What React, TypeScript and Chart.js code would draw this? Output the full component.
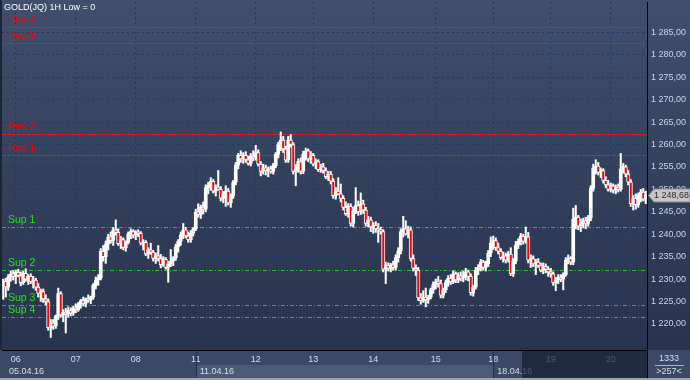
import React, { useEffect, useRef } from 'react';
import { Chart, registerables } from 'chart.js';

Chart.register(...registerables);

const FONT = "'Liberation Sans', Arial, sans-serif";

const opens = [
  1228.5,1229.5,1228.2,1230.5,1231.2,1230.6,1231.5,1230.8,1229.2,1231.3,
  1230.0,1230.6,1229.4,1229.8,1228.2,1226.8,1227.2,1225.6,1225.0,1219.2,
  1220.2,1219.5,1221.8,1226.8,1222.0,1222.6,1222.2,1223.0,1222.4,1223.6,
  1223.2,1224.4,1225.2,1224.6,1225.6,1225.3,1226.0,1228.6,1229.8,1230.2,
  1236.2,1235.0,1237.8,1239.4,1238.6,1241.0,1240.4,1237.9,1238.8,1237.0,
  1238.2,1240.1,1240.6,1239.8,1240.4,1240.2,1238.0,1238.2,1235.6,1236.5,
  1236.0,1234.6,1235.2,1234.6,1233.2,1234.4,1232.6,1233.4,1234.0,1234.8,
  1237.2,1238.4,1239.8,1241.0,1239.6,1238.8,1240.2,1241.2,1245.0,1244.4,
  1246.0,1245.6,1250.4,1251.0,1251.8,1249.6,1250.5,1250.0,1248.0,1249.0,
  1249.6,1247.0,1248.6,1251.6,1255.4,1257.6,1256.8,1257.6,1256.6,1255.8,
  1257.4,1257.0,1258.2,1255.6,1254.0,1254.8,1254.2,1254.6,1254.0,1255.2,
  1257.8,1260.0,1261.0,1259.0,1256.5,1261.0,1260.0,1254.0,1254.6,1256.2,
  1254.0,1257.8,1258.6,1256.8,1257.6,1255.6,1256.2,1254.4,1255.0,1254.2,
  1252.8,1253.4,1251.8,1248.6,1249.6,1249.0,1248.0,1246.0,1244.6,1246.2,
  1242.4,1245.2,1246.4,1245.0,1246.8,1245.4,1242.4,1243.2,1241.6,1242.0,
  1241.2,1241.0,1240.6,1232.2,1233.0,1232.4,1233.2,1232.6,1234.8,1236.2,
  1240.6,1241.2,1240.0,1241.0,1234.6,1232.4,1232.0,1225.8,1225.2,1226.0,
  1225.4,1226.0,1227.6,1228.8,1229.4,1229.0,1226.4,1227.6,1229.2,1230.2,
  1229.4,1231.2,1229.8,1230.8,1230.2,1230.6,1231.6,1230.6,1227.0,1228.2,
  1232.0,1232.6,1233.8,1232.6,1233.4,1235.8,1238.0,1238.6,1237.0,1236.2,
  1234.8,1235.2,1234.2,1235.6,1231.2,1234.0,1237.6,1238.4,1239.6,1238.4,
  1239.4,1234.2,1234.6,1233.4,1233.8,1233.0,1232.0,1232.8,1232.2,1231.6,
  1231.2,1229.2,1229.8,1230.4,1230.0,1231.0,1234.2,1234.6,1233.8,1243.4,
  1243.8,1241.8,1242.6,1243.0,1242.4,1243.6,1250.2,1254.8,1255.2,1253.8,
  1254.2,1252.0,1251.0,1250.0,1250.8,1249.8,1250.4,1250.0,1254.6,1255.0,
  1253.4,1251.6,1246.8,1248.0,1246.6,1248.6,1249.4,1247.8,
];

const highs = [
  1230.0,1230.2,1231.0,1231.8,1231.9,1232.0,1232.2,1231.6,1231.8,1232.3,
  1231.0,1231.2,1230.6,1230.2,1229.0,1227.8,1227.8,1226.5,1225.6,1221.0,
  1221.0,1222.0,1228.0,1227.2,1223.2,1223.5,1223.8,1223.6,1224.0,1224.5,
  1224.8,1225.5,1226.0,1225.8,1226.5,1226.2,1229.0,1230.5,1231.0,1236.8,
  1237.5,1238.5,1240.0,1240.5,1241.5,1243.2,1241.2,1239.5,1239.2,1238.5,
  1240.5,1241.2,1241.0,1240.8,1241.0,1240.6,1238.8,1238.6,1237.0,1238.0,
  1236.4,1235.8,1237.5,1235.5,1235.0,1234.8,1234.0,1236.6,1235.0,1237.8,
  1238.8,1240.5,1242.4,1241.5,1240.5,1240.8,1241.5,1245.6,1246.8,1246.5,
  1247.2,1251.0,1251.6,1252.6,1252.2,1251.0,1254.2,1250.6,1249.5,1250.8,
  1250.2,1249.0,1252.0,1256.0,1258.0,1258.6,1258.2,1258.4,1257.4,1258.0,
  1258.6,1259.8,1258.8,1256.2,1255.6,1255.4,1255.0,1255.2,1255.8,1258.2,
  1260.5,1262.8,1261.8,1259.6,1261.8,1262.2,1260.4,1255.5,1256.8,1257.0,
  1258.5,1259.2,1259.0,1258.4,1258.0,1256.8,1256.6,1255.6,1255.8,1254.8,
  1254.0,1254.0,1252.4,1250.4,1252.6,1251.2,1248.6,1247.2,1246.8,1246.8,
  1246.0,1250.4,1247.4,1249.2,1247.6,1246.0,1244.0,1243.8,1242.6,1242.8,
  1242.4,1241.6,1241.0,1233.8,1233.6,1233.5,1234.0,1235.4,1237.0,1241.2,
  1244.0,1243.0,1241.8,1241.6,1235.4,1233.2,1232.6,1226.8,1227.4,1228.0,
  1226.4,1228.0,1229.4,1230.0,1230.6,1229.8,1228.0,1229.8,1230.8,1231.0,
  1231.8,1231.6,1231.4,1231.6,1231.8,1232.4,1232.0,1231.2,1228.6,1232.6,
  1233.2,1234.4,1234.2,1234.0,1236.4,1239.4,1239.6,1239.2,1238.0,1236.8,
  1236.0,1235.8,1236.2,1237.0,1234.6,1238.4,1239.0,1240.2,1240.0,1241.6,
  1240.4,1235.4,1235.2,1234.4,1234.6,1233.6,1233.6,1233.4,1232.8,1232.4,
  1231.6,1230.4,1231.0,1231.0,1231.4,1234.8,1235.4,1235.0,1245.8,1246.4,
  1244.2,1243.4,1243.6,1243.8,1244.2,1250.8,1255.6,1256.6,1256.0,1254.8,
  1254.6,1252.8,1252.0,1251.4,1251.2,1251.0,1251.2,1258.0,1255.8,1255.4,
  1254.2,1252.2,1248.6,1249.0,1249.2,1250.0,1250.2,1249.6,
];

const lows = [
  1225.5,1226.0,1227.5,1229.5,1229.8,1229.0,1230.5,1228.5,1228.8,1229.5,
  1228.8,1229.0,1228.0,1227.5,1226.0,1225.0,1224.8,1224.2,1218.6,1217.0,
  1218.8,1219.0,1221.0,1221.5,1220.5,1218.0,1221.5,1221.8,1221.9,1222.5,
  1222.8,1223.5,1224.0,1223.8,1224.8,1224.5,1225.5,1227.8,1228.6,1229.8,
  1234.0,1233.5,1236.5,1238.0,1237.5,1239.8,1237.5,1236.8,1236.5,1236.2,
  1237.8,1239.0,1239.2,1238.8,1239.5,1237.6,1236.5,1235.2,1234.6,1235.5,
  1234.0,1233.5,1234.0,1232.5,1232.8,1232.2,1229.3,1232.8,1233.0,1234.2,
  1236.0,1237.5,1239.0,1239.2,1238.2,1238.2,1239.6,1240.8,1243.8,1243.5,
  1244.5,1245.0,1249.0,1249.8,1249.2,1248.5,1249.8,1247.4,1247.0,1246.2,
  1246.5,1246.0,1248.0,1251.0,1254.6,1256.0,1255.8,1256.0,1255.4,1255.2,
  1256.4,1256.5,1255.2,1253.0,1253.4,1253.2,1252.8,1253.6,1253.4,1254.8,
  1257.0,1258.6,1258.2,1256.0,1256.0,1259.4,1253.4,1250.8,1253.8,1253.4,
  1253.5,1256.5,1256.2,1255.8,1255.2,1254.6,1254.0,1253.8,1253.6,1252.4,
  1252.0,1251.2,1248.0,1247.8,1248.8,1247.2,1245.4,1244.2,1243.8,1241.8,
  1241.6,1244.6,1244.2,1244.4,1244.6,1241.8,1241.6,1240.6,1240.2,1240.4,
  1238.2,1240.0,1231.6,1229.0,1231.8,1231.6,1232.0,1232.0,1233.8,1235.6,
  1239.4,1239.8,1239.2,1234.0,1231.8,1230.8,1225.2,1224.4,1224.8,1223.8,
  1224.6,1225.6,1226.8,1227.8,1228.2,1225.8,1225.8,1227.0,1228.4,1228.8,
  1229.0,1229.2,1229.2,1229.6,1229.4,1229.8,1229.6,1226.4,1226.2,1227.8,
  1231.0,1231.8,1232.0,1231.8,1232.8,1235.0,1236.6,1236.4,1235.6,1234.4,
  1233.8,1233.6,1233.8,1230.8,1230.6,1233.4,1236.8,1237.6,1237.8,1238.0,
  1233.6,1232.6,1232.8,1231.0,1232.6,1231.6,1231.2,1231.4,1230.6,1230.4,
  1228.6,1227.4,1229.0,1229.4,1227.6,1230.6,1233.4,1233.2,1233.2,1241.2,
  1241.0,1240.6,1241.4,1241.2,1241.8,1243.0,1249.6,1253.4,1253.2,1252.6,
  1251.4,1250.4,1249.6,1249.4,1249.2,1249.0,1249.4,1249.6,1253.6,1252.8,
  1251.0,1246.2,1245.4,1245.6,1246.0,1247.2,1247.4,1246.8,
];

const closes = [
  1229.5,1228.2,1230.5,1231.2,1230.6,1231.5,1230.8,1229.2,1231.3,1230.0,
  1230.6,1229.4,1229.8,1228.2,1226.8,1227.2,1225.6,1225.0,1219.2,1220.2,
  1219.5,1221.8,1226.8,1222.0,1222.6,1222.2,1223.0,1222.4,1223.6,1223.2,
  1224.4,1225.2,1224.6,1225.6,1225.3,1226.0,1228.6,1229.8,1230.2,1236.2,
  1235.0,1237.8,1239.4,1238.6,1241.0,1240.4,1237.9,1238.8,1237.0,1238.2,
  1240.1,1240.6,1239.8,1240.4,1240.2,1238.0,1238.2,1235.6,1236.5,1236.0,
  1234.6,1235.2,1234.6,1233.2,1234.4,1232.6,1233.4,1234.0,1234.8,1237.2,
  1238.4,1239.8,1241.0,1239.6,1238.8,1240.2,1241.2,1245.0,1244.4,1246.0,
  1245.6,1250.4,1251.0,1251.8,1249.6,1250.5,1250.0,1248.0,1249.0,1249.6,
  1247.0,1248.6,1251.6,1255.4,1257.6,1256.8,1257.6,1256.6,1255.8,1257.4,
  1257.0,1258.2,1255.6,1254.0,1254.8,1254.2,1254.6,1254.0,1255.2,1257.8,
  1260.0,1261.0,1259.0,1256.5,1261.0,1260.0,1254.0,1254.6,1256.2,1254.0,
  1257.8,1258.6,1256.8,1257.6,1255.6,1256.2,1254.4,1255.0,1254.2,1252.8,
  1253.4,1251.8,1248.6,1249.6,1249.0,1248.0,1246.0,1244.6,1246.2,1242.4,
  1245.2,1246.4,1245.0,1246.8,1245.4,1242.4,1243.2,1241.6,1242.0,1241.2,
  1241.0,1240.6,1232.2,1233.0,1232.4,1233.2,1232.6,1234.8,1236.2,1240.6,
  1241.2,1240.0,1241.0,1234.6,1232.4,1232.0,1225.8,1225.2,1226.0,1225.4,
  1226.0,1227.6,1228.8,1229.4,1229.0,1226.4,1227.6,1229.2,1230.2,1229.4,
  1231.2,1229.8,1230.8,1230.2,1230.6,1231.6,1230.6,1227.0,1228.2,1232.0,
  1232.6,1233.8,1232.6,1233.4,1235.8,1238.0,1238.6,1237.0,1236.2,1234.8,
  1235.2,1234.2,1235.6,1231.2,1234.0,1237.6,1238.4,1239.6,1238.4,1239.4,
  1234.2,1234.6,1233.4,1233.8,1233.0,1232.0,1232.8,1232.2,1231.6,1231.2,
  1229.2,1229.8,1230.4,1230.0,1231.0,1234.2,1234.6,1233.8,1243.4,1243.8,
  1241.8,1242.6,1243.0,1242.4,1243.6,1250.2,1254.8,1255.2,1253.8,1254.2,
  1252.0,1251.0,1250.0,1250.8,1249.8,1250.4,1250.0,1254.6,1255.0,1253.4,
  1251.6,1246.8,1248.0,1246.6,1248.6,1249.4,1247.8,1248.68,
];

// x-axis: day ticks (bar index where each day starts) and their labels
const dayStartIdx = [5, 29, 53, 77, 101, 124, 148, 173, 196, 219, 243];
const dayLabels = ['06', '07', '08', '11', '12', '13', '14', '15', '18', '19', '20'];
const weekStartIdx = [0, 77, 196];
const weekLabels = ['05.04.16', '11.04.16', '18.04.16'];

// y-axis ticks
const yTicks = [1220, 1225, 1230, 1235, 1240, 1245, 1250, 1255, 1260, 1265, 1270, 1275, 1280, 1285];
const yMin = 1214.2;
const yMax = 1291.75;

// support / resistance levels
const levelNames = ['Res 4', 'Res 3', 'Res 2', 'Res 1', 'Sup 1', 'Sup 2', 'Sup 3', 'Sup 4'];
const levelValues = [1286.1, 1282.55, 1262.27, 1257.6, 1241.6, 1231.97, 1224.2, 1221.5];

const titleText = 'GOLD(JQ) 1H Low = 0';
const barCountText = '1333';
const visibleText = '>257<';

const fmt = (v: number) => {
  const s = v.toFixed(2).replace('.', ',');
  return s.slice(0, 1) + ' ' + s.slice(1);
};

const decor = {
  id: 'decor',
  beforeDraw(chart: any) {
    const { ctx, width, height, chartArea } = chart;
    const xs = chart.scales.x;
    ctx.save();
    const g = ctx.createLinearGradient(0, 0, 0, chartArea.bottom);
    g.addColorStop(0, '#404f6c');
    g.addColorStop(1, '#28334d');
    ctx.fillStyle = g;
    ctx.fillRect(0, 0, width, chartArea.bottom);
    ctx.fillStyle = '#3b4966';
    ctx.fillRect(0, chartArea.bottom, width, height - chartArea.bottom);
    const w1 = xs.getPixelForValue(weekStartIdx[1]);
    const w2 = xs.getPixelForValue(weekStartIdx[2]);
    ctx.fillStyle = '#4c5a78';
    ctx.fillRect(w1, 365, w2 - w1, 13);
    ctx.fillStyle = '#1e2535';
    ctx.fillRect(0, 0, 2, chartArea.bottom);
    ctx.restore();
  },
  beforeDatasetsDraw(chart: any) {
    const { ctx, chartArea } = chart;
    const ys = chart.scales.y;
    levelValues.forEach((v, k) => {
      const isRes = levelNames[k].startsWith('Res');
      const py = Math.round(ys.getPixelForValue(v)) + 0.5;
      ctx.save();
      ctx.lineWidth = 1;
      ctx.strokeStyle = isRes ? '#ff1010' : '#22c422';
      ctx.setLineDash(isRes ? [4, 1] : [4, 2, 1, 2]);
      ctx.beginPath();
      ctx.moveTo(chartArea.left, py);
      ctx.lineTo(chartArea.right, py);
      ctx.stroke();
      ctx.restore();
      ctx.save();
      ctx.font = `10.5px ${FONT}`;
      ctx.textBaseline = 'alphabetic';
      ctx.textAlign = 'left';
      ctx.fillStyle = isRes ? '#ff0000' : '#1ee61e';
      ctx.fillText(levelNames[k], 8, py - 4.5);
      ctx.restore();
    });
  },
  afterDraw(chart: any) {
    const { ctx, chartArea, width, height } = chart;
    const xs = chart.scales.x;
    const ys = chart.scales.y;
    ctx.save();
    // week labels
    ctx.font = `9px ${FONT}`;
    ctx.textBaseline = 'middle';
    ctx.textAlign = 'left';
    ctx.fillStyle = '#d4def0';
    weekStartIdx.forEach((idx, k) => {
      const x = k === 0 ? 9 : xs.getPixelForValue(idx) + 4;
      ctx.fillText(weekLabels[k], x, 371.5);
    });
    ctx.strokeStyle = '#1c2f58';
    ctx.lineWidth = 1;
    weekStartIdx.slice(1).forEach((idx) => {
      const x = Math.round(xs.getPixelForValue(idx)) + 0.5;
      ctx.beginPath();
      ctx.moveTo(x, chartArea.bottom);
      ctx.lineTo(x, height);
      ctx.stroke();
    });
    // scroll thumb overlay
    ctx.fillStyle = 'rgba(22,30,50,0.72)';
    ctx.fillRect(522, chartArea.bottom + 1, chartArea.right - 522, height - chartArea.bottom - 3);
    // right separator down through the strip
    ctx.strokeStyle = '#000000';
    ctx.beginPath();
    ctx.moveTo(chartArea.right + 0.5, chartArea.bottom);
    ctx.lineTo(chartArea.right + 0.5, height);
    ctx.stroke();
    // corner box
    ctx.fillStyle = '#d4def0';
    ctx.textAlign = 'center';
    ctx.fillText(barCountText, 669, 358.5);
    ctx.fillText(visibleText, 669, 372);
    ctx.strokeStyle = '#aab4c8';
    ctx.beginPath();
    ctx.moveTo(655, 365.5);
    ctx.lineTo(684, 365.5);
    ctx.stroke();
    // last price marker
    const last = closes[closes.length - 1];
    const py = Math.round(ys.getPixelForValue(last)) + 0.5;
    ctx.fillStyle = '#c6c6c6';
    ctx.strokeStyle = '#8c8c8c';
    ctx.beginPath();
    ctx.moveTo(648.5, py);
    ctx.lineTo(654, py - 6.5);
    ctx.lineTo(width, py - 6.5);
    ctx.lineTo(width, py + 6.5);
    ctx.lineTo(654, py + 6.5);
    ctx.closePath();
    ctx.fill();
    ctx.stroke();
    ctx.fillStyle = '#2a2a2a';
    ctx.textAlign = 'left';
    ctx.font = `9px ${FONT}`;
    ctx.fillText(fmt(last), 654, py + 0.5);
    // title
    ctx.fillStyle = '#ffffff';
    ctx.fillText(titleText, 4, 8);
    // bottom frame
    ctx.fillStyle = '#9aa4b4';
    ctx.fillRect(0, height - 2, width, 2);
    ctx.restore();
  },
};

export default function App() {
  const ref = useRef<HTMLCanvasElement>(null);
  useEffect(() => {
    document.body.style.margin = '0';
    const canvas = ref.current;
    if (!canvas) return;
    const labels = opens.map((_, i) => String(i));
    const chart = new Chart(canvas, {
      type: 'bar',
      data: {
        labels,
        datasets: [
          {
            label: 'body',
            data: opens.map((o, i) => [o, closes[i]]) as any,
            backgroundColor: opens.map((o, i) => (closes[i] < o ? '#ff0000' : '#ffffff')),
            borderColor: '#ffffff',
            borderWidth: 1,
            borderSkipped: false,
            barThickness: 3.4,
            minBarLength: 1,
            grouped: false,
          } as any,
          {
            label: 'wick',
            data: lows.map((l, i) => [l, highs[i]]) as any,
            backgroundColor: '#ffffff',
            borderWidth: 0,
            barThickness: 1.4,
            grouped: false,
          } as any,
        ],
      },
      options: {
        responsive: false,
        animation: false,
        devicePixelRatio: 1,
        layout: { padding: { left: 2, top: 2, right: 0, bottom: 0 } },
        plugins: { legend: { display: false }, tooltip: { enabled: false } },
        scales: {
          x: {
            type: 'category',
            offset: true,
            afterBuildTicks: (s: any) => {
              s.ticks = dayStartIdx.map((v) => ({ value: v }));
            },
            afterFit: (s: any) => {
              s.height = 30;
              s.paddingLeft = 0;
              s.paddingRight = 0;
            },
            grid: { color: '#1e3868', lineWidth: 1, drawTicks: false, offset: false },
            border: { display: true, color: '#000000', width: 1, dash: [2, 3] },
            ticks: {
              autoSkip: false,
              maxRotation: 0,
              padding: 4,
              color: '#d4def0',
              font: { family: FONT, size: 9 },
              callback: (_v: any, i: number) => dayLabels[i],
            },
          },
          y: {
            type: 'linear',
            position: 'right',
            min: yMin,
            max: yMax,
            afterBuildTicks: (s: any) => {
              s.ticks = yTicks.map((v) => ({ value: v }));
            },
            afterFit: (s: any) => {
              s.width = 43;
              s.paddingTop = 0;
              s.paddingBottom = 0;
            },
            grid: { color: '#1e3868', lineWidth: 1, drawTicks: false },
            border: { display: true, color: '#000000', width: 1, dash: [2, 3] },
            ticks: {
              padding: 4,
              color: '#c8d4ea',
              font: { family: FONT, size: 9 },
              callback: (v: any) => fmt(Number(v)),
            },
          },
        },
      } as any,
      plugins: [decor],
    });
    return () => chart.destroy();
  }, []);
  return (
    <div style={{ width: 690, height: 380 }}>
      <canvas ref={ref} width={690} height={380} style={{ display: 'block' }} />
    </div>
  );
}
